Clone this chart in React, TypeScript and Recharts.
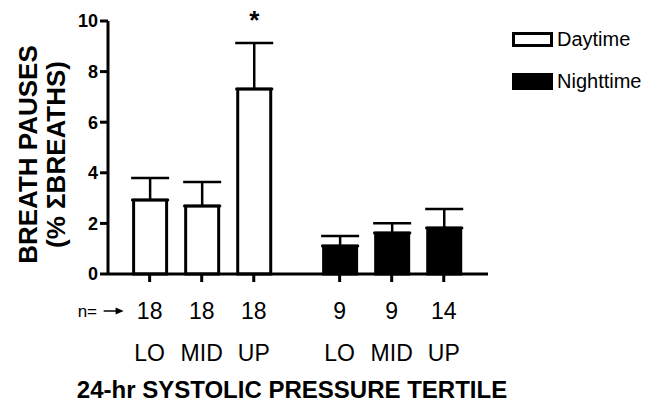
import React from "react";
import {
  BarChart,
  Bar,
  XAxis,
  YAxis,
  Cell,
  ErrorBar,
  LabelList,
  Label,
  Legend,
} from "recharts";

const FONT = "'Liberation Sans', Arial, Helvetica, sans-serif";

// x positions of the six bars (two groups of three, with a gap in between)
const positions = [0.8, 1.8, 2.8, 4.45, 5.45, 6.45];
const periods = ["Daytime", "Daytime", "Daytime", "Nighttime", "Nighttime", "Nighttime"];
const tertiles = ["LO", "MID", "UP", "LO", "MID", "UP"];
const counts = [18, 18, 18, 9, 9, 14];
const means = [2.92, 2.69, 7.31, 1.11, 1.62, 1.82];
const sems = [0.87, 0.95, 1.82, 0.39, 0.39, 0.75];
const marks = ["", "", "*", "", "", ""];
const yTicks = [0, 2, 4, 6, 8, 10];

const legendItems = ["Daytime", "Nighttime"];
const fills: Record<string, string> = { Daytime: "#ffffff", Nighttime: "#000000" };

const data = positions.map((x, i) => ({
  x,
  period: periods[i],
  value: means[i],
  err: [0, sems[i]],
  mark: marks[i],
}));

const XTick = (props: any) => {
  const { x, y, index } = props;
  return (
    <g>
      {index === 0 && (
        <g>
          <text x={x - 72} y={y + 33} fontSize={17} fontFamily={FONT} fill="#000">
            n=
          </text>
          <line x1={x - 46} y1={y + 27} x2={x - 32} y2={y + 27} stroke="#000" strokeWidth={1.5} />
          <polygon
            points={`${x - 34},${y + 23.5} ${x - 26},${y + 27} ${x - 34},${y + 30.5}`}
            fill="#000"
          />
        </g>
      )}
      <text x={x} y={y + 35} textAnchor="middle" fontSize={23} fontFamily={FONT} fill="#000">
        {counts[index]}
      </text>
      <text x={x} y={y + 77} textAnchor="middle" fontSize={23} fontFamily={FONT} fill="#000">
        {tertiles[index]}
      </text>
    </g>
  );
};

const YLabel = (props: any) => {
  const vb = props.viewBox || {};
  const cy = vb.y + vb.height / 2 + 7;
  return (
    <g fontFamily={FONT} fontWeight="bold" fontSize={26} fill="#000">
      <text x={37} y={cy} textAnchor="middle" transform={`rotate(-90, 37, ${cy})`}>
        BREATH PAUSES
      </text>
      <text x={65} y={cy} textAnchor="middle" transform={`rotate(-90, 65, ${cy})`}>
        (% ΣBREATHS)
      </text>
    </g>
  );
};

const StarLabel = (props: any) => {
  const vb = props.viewBox || props;
  const index = props.index;
  const value = props.value;
  if (!value) return null;
  const x = props.x ?? vb.x;
  const y = props.y ?? vb.y;
  const width = props.width ?? vb.width;
  const height = props.height ?? vb.height;
  const pxPerUnit = Math.abs(height) / means[index];
  const top = y - sems[index] * pxPerUnit;
  return (
    <text
      x={x + width / 2}
      y={top - 14}
      textAnchor="middle"
      fontSize={26}
      fontWeight="bold"
      fontFamily={FONT}
      fill="#000"
    >
      {value}
    </text>
  );
};

const LegendContent = () => (
  <div style={{ fontFamily: FONT, fontSize: 20, color: "#000" }}>
    {legendItems.map((name) => (
      <div key={name} style={{ display: "flex", alignItems: "center", height: 42 }}>
        <div
          style={{
            width: 41,
            height: name === "Daytime" ? 15 : 17,
            boxSizing: "border-box",
            border: "3px solid #000",
            background: fills[name],
          }}
        />
        <span style={{ marginLeft: 4 }}>{name}</span>
      </div>
    ))}
  </div>
);

export default function App() {
  return (
    <div style={{ position: "absolute", left: 0, top: 0, background: "#fff" }}>
      <BarChart
        width={649}
        height={408}
        data={data}
        margin={{ top: 21, right: 161, bottom: 0, left: 0 }}
      >
        <XAxis
          dataKey="x"
          type="number"
          domain={[0, 7.3]}
          ticks={positions}
          interval={0}
          height={134}
          axisLine={{ stroke: "#000", strokeWidth: 3 }}
          tickLine={{ stroke: "#000", strokeWidth: 3 }}
          tickSize={8}
          tickMargin={2}
          tick={<XTick />}
        >
          <Label
            value="24-hr SYSTOLIC PRESSURE TERTILE"
            position="insideBottom"
            offset={10}
            dx={-6}
            style={{ fontFamily: FONT, fontWeight: "bold", fontSize: 24, fill: "#000" }}
          />
        </XAxis>
        <YAxis
          width={108}
          domain={[0, 10]}
          ticks={yTicks}
          interval={0}
          axisLine={{ stroke: "#000", strokeWidth: 3 }}
          tickLine={{ stroke: "#000", strokeWidth: 3 }}
          tickSize={8}
          tickMargin={2}
          tick={{ fontFamily: FONT, fontSize: 18, fontWeight: "bold", fill: "#000" }}
        >
          <Label content={<YLabel />} />
        </YAxis>
        <Legend
          layout="vertical"
          align="center"
          verticalAlign="middle"
          wrapperStyle={{ left: 512, top: 18, width: 137 }}
          content={<LegendContent />}
        />
        <Bar dataKey="value" barSize={33} stroke="#000" strokeWidth={3} isAnimationActive={false}>
          {data.map((d) => (
            <Cell key={d.x} fill={fills[d.period]} />
          ))}
          <ErrorBar dataKey="err" width={19} stroke="#000" strokeWidth={2.5} direction="y" />
          <LabelList dataKey="mark" content={<StarLabel />} />
        </Bar>
      </BarChart>
    </div>
  );
}
